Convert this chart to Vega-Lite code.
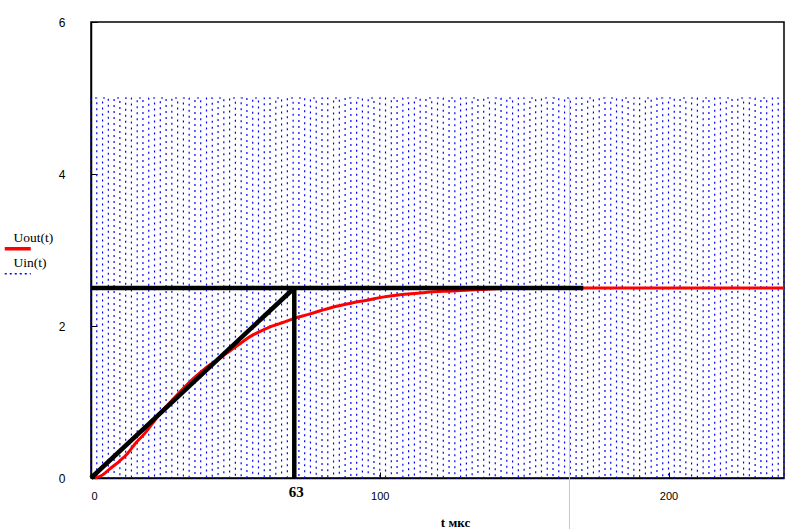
{
  "$schema": "https://vega.github.io/schema/vega-lite/v6.json",
  "width": 693,
  "height": 456,
  "autosize": {"type": "none"},
  "padding": {"left": 91, "top": 22, "right": 7, "bottom": 51},
  "background": "#ffffff",
  "config": {
    "view": {"stroke": "#000000", "strokeWidth": 1.5},
    "axis": {"grid": false, "domainColor": "#000000", "domainWidth": 1.5, "tickColor": "#000000", "labelColor": "#000000", "labelFont": "Liberation Sans", "labelFontSize": 12, "tickSize": -6}
  },
  "datasets": {
    "sq": [
      {"t":0,"a":0,"b":5},{"t":2,"a":5,"b":0},{"t":4,"a":0,"b":5},{"t":6,"a":5,"b":0},{"t":8,"a":0,"b":5},{"t":10,"a":5,"b":0},{"t":12,"a":0,"b":5},{"t":14,"a":5,"b":0},{"t":16,"a":0,"b":5},{"t":18,"a":5,"b":0},
      {"t":20,"a":0,"b":5},{"t":22,"a":5,"b":0},{"t":24,"a":0,"b":5},{"t":26,"a":5,"b":0},{"t":28,"a":0,"b":5},{"t":30,"a":5,"b":0},{"t":32,"a":0,"b":5},{"t":34,"a":5,"b":0},{"t":36,"a":0,"b":5},{"t":38,"a":5,"b":0},
      {"t":40,"a":0,"b":5},{"t":42,"a":5,"b":0},{"t":44,"a":0,"b":5},{"t":46,"a":5,"b":0},{"t":48,"a":0,"b":5},{"t":50,"a":5,"b":0},{"t":52,"a":0,"b":5},{"t":54,"a":5,"b":0},{"t":56,"a":0,"b":5},{"t":58,"a":5,"b":0},
      {"t":60,"a":0,"b":5},{"t":62,"a":5,"b":0},{"t":64,"a":0,"b":5},{"t":66,"a":5,"b":0},{"t":68,"a":0,"b":5},{"t":70,"a":5,"b":0},{"t":72,"a":0,"b":5},{"t":74,"a":5,"b":0},{"t":76,"a":0,"b":5},{"t":78,"a":5,"b":0},
      {"t":80,"a":0,"b":5},{"t":82,"a":5,"b":0},{"t":84,"a":0,"b":5},{"t":86,"a":5,"b":0},{"t":88,"a":0,"b":5},{"t":90,"a":5,"b":0},{"t":92,"a":0,"b":5},{"t":94,"a":5,"b":0},{"t":96,"a":0,"b":5},{"t":98,"a":5,"b":0},
      {"t":100,"a":0,"b":5},{"t":102,"a":5,"b":0},{"t":104,"a":0,"b":5},{"t":106,"a":5,"b":0},{"t":108,"a":0,"b":5},{"t":110,"a":5,"b":0},{"t":112,"a":0,"b":5},{"t":114,"a":5,"b":0},{"t":116,"a":0,"b":5},{"t":118,"a":5,"b":0},
      {"t":120,"a":0,"b":5},{"t":122,"a":5,"b":0},{"t":124,"a":0,"b":5},{"t":126,"a":5,"b":0},{"t":128,"a":0,"b":5},{"t":130,"a":5,"b":0},{"t":132,"a":0,"b":5},{"t":134,"a":5,"b":0},{"t":136,"a":0,"b":5},{"t":138,"a":5,"b":0},
      {"t":140,"a":0,"b":5},{"t":142,"a":5,"b":0},{"t":144,"a":0,"b":5},{"t":146,"a":5,"b":0},{"t":148,"a":0,"b":5},{"t":150,"a":5,"b":0},{"t":152,"a":0,"b":5},{"t":154,"a":5,"b":0},{"t":156,"a":0,"b":5},{"t":158,"a":5,"b":0},
      {"t":160,"a":0,"b":5},{"t":162,"a":5,"b":0},{"t":164,"a":0,"b":5},{"t":166,"a":5,"b":0},{"t":168,"a":0,"b":5},{"t":170,"a":5,"b":0},{"t":172,"a":0,"b":5},{"t":174,"a":5,"b":0},{"t":176,"a":0,"b":5},{"t":178,"a":5,"b":0},
      {"t":180,"a":0,"b":5},{"t":182,"a":5,"b":0},{"t":184,"a":0,"b":5},{"t":186,"a":5,"b":0},{"t":188,"a":0,"b":5},{"t":190,"a":5,"b":0},{"t":192,"a":0,"b":5},{"t":194,"a":5,"b":0},{"t":196,"a":0,"b":5},{"t":198,"a":5,"b":0},
      {"t":200,"a":0,"b":5},{"t":202,"a":5,"b":0},{"t":204,"a":0,"b":5},{"t":206,"a":5,"b":0},{"t":208,"a":0,"b":5},{"t":210,"a":5,"b":0},{"t":212,"a":0,"b":5},{"t":214,"a":5,"b":0},{"t":216,"a":0,"b":5},{"t":218,"a":5,"b":0},
      {"t":220,"a":0,"b":5},{"t":222,"a":5,"b":0},{"t":224,"a":0,"b":5},{"t":226,"a":5,"b":0},{"t":228,"a":0,"b":5},{"t":230,"a":5,"b":0},{"t":232,"a":0,"b":5},{"t":234,"a":5,"b":0},{"t":236,"a":0,"b":5},{"t":238,"a":5,"b":0},
      {"t":240,"a":0,"b":5}
    ],
    "out": [
      {"t":1.4,"u":0},{"t":4,"u":0.04},{"t":7,"u":0.135},{"t":9.8,"u":0.22},{"t":12.6,"u":0.32},{"t":15.5,"u":0.46},{"t":18.7,"u":0.59},{"t":21.5,"u":0.73},{"t":24,"u":0.855},{"t":27,"u":0.98},
      {"t":29.7,"u":1.09},{"t":32.5,"u":1.2},{"t":35.5,"u":1.31},{"t":38.5,"u":1.41},{"t":41.2,"u":1.49},{"t":44,"u":1.56},{"t":46.5,"u":1.63},{"t":49.5,"u":1.71},{"t":52.8,"u":1.8},{"t":55.5,"u":1.87},
      {"t":58.6,"u":1.93},{"t":61.5,"u":1.98},{"t":64.4,"u":2.02},{"t":67.5,"u":2.06},{"t":70.4,"u":2.1},{"t":75,"u":2.15},{"t":79.4,"u":2.2},{"t":84,"u":2.25},{"t":90,"u":2.3},{"t":95.6,"u":2.34},
      {"t":101,"u":2.38},{"t":107,"u":2.41},{"t":113,"u":2.43},{"t":118.6,"u":2.45},{"t":125,"u":2.46},{"t":130,"u":2.47},{"t":140,"u":2.49},{"t":150,"u":2.5},{"t":240,"u":2.5}
    ],
    "tan": [
      {"t":0,"u":2.5,"t2":170.5,"u2":2.5},
      {"t":70.4,"u":0,"t2":70.4,"u2":2.5},
      {"t":0,"u":0,"t2":70.4,"u2":2.5}
    ]
  },
  "layer": [
    {
      "data": {"name": "sq"},
      "transform": [{"fold": ["a", "b"], "as": ["k", "u"]}],
      "mark": {"type": "line", "strokeDash": [2, 4], "strokeWidth": 1.2, "interpolate": "linear"},
      "encoding": {
        "x": {"field": "t", "type": "quantitative", "scale": {"domain": [0, 240], "nice": false, "zero": false},
              "axis": {"values": [0, 100, 200], "title": "t мкс", "labelPadding": 18, "labelFontSize": 11,
                       "titleFont": "Liberation Serif", "titleFontSize": 13, "titleFontWeight": "bold", "titleColor": "#000000",
                       "titleX": 364, "titleY": 48, "titleAlign": "center", "titleBaseline": "alphabetic"}},
        "y": {"field": "u", "type": "quantitative", "scale": {"domain": [0, 6], "nice": false},
              "axis": {"values": [0, 2, 4, 6], "format": "d", "title": null, "labelPadding": 32}},
        "color": {"datum": "Uin(t)",
                  "scale": {"domain": ["Uout(t)", "Uin(t)"], "range": ["#ff0000", "#0000ff"]},
                  "legend": {"orient": "none", "legendX": -80, "legendY": 220, "title": null, "padding": 0,
                             "symbolType": "stroke", "symbolSize": 676, "rowPadding": -1,
                             "labelFont": "Liberation Serif", "labelFontSize": 13.5, "labelColor": "#000000",
                             "encode": {
                               "symbols": {"update": {
                                 "strokeDash": {"signal": "datum.value === 'Uin(t)' ? [2, 3] : [1, 0]"},
                                 "strokeWidth": {"signal": "datum.value === 'Uin(t)' ? 1.5 : 3.5"}}},
                               "labels": {"update": {"dx": {"value": -15}, "dy": {"value": -11}}}
                             }}},
        "order": {"value": null}
      }
    },
    {
      "data": {"values": [{"t": 165.7}]},
      "mark": {"type": "rule", "color": "#c8c8c8", "strokeWidth": 1},
      "encoding": {
        "x": {"field": "t", "type": "quantitative"},
        "y": {"datum": 5},
        "y2": {"datum": -0.7}
      }
    },
    {
      "data": {"name": "out"},
      "mark": {"type": "line", "strokeWidth": 3, "interpolate": "monotone"},
      "encoding": {
        "x": {"field": "t", "type": "quantitative"},
        "y": {"field": "u", "type": "quantitative"},
        "color": {"datum": "Uout(t)"}
      }
    },
    {
      "data": {"name": "tan"},
      "mark": {"type": "rule", "color": "#000000", "strokeWidth": 4.5},
      "encoding": {
        "x": {"field": "t", "type": "quantitative"},
        "y": {"field": "u", "type": "quantitative"},
        "x2": {"field": "t2"},
        "y2": {"field": "u2"}
      }
    },
    {
      "data": {"values": [{"t": 70.4, "label": "63"}]},
      "mark": {"type": "text", "font": "Liberation Serif", "fontSize": 15, "fontWeight": "bold", "color": "#000000", "baseline": "middle", "dy": 14, "dx": 2},
      "encoding": {
        "x": {"field": "t", "type": "quantitative"},
        "y": {"datum": 0},
        "text": {"field": "label"}
      }
    }
  ]
}
